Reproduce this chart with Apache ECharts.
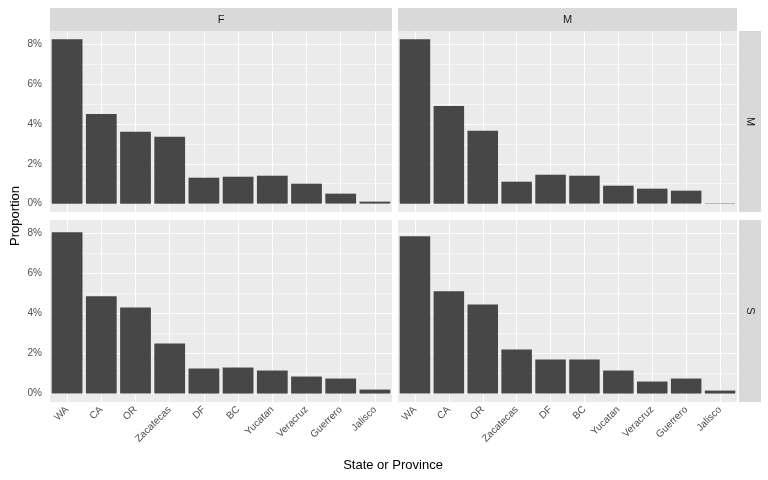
<!DOCTYPE html>
<html><head><meta charset="utf-8">
<script src="https://cdn.jsdelivr.net/npm/echarts@6/dist/echarts.min.js"></script>
<style>body{margin:0;background:#fff}#c{width:768px;height:480px}</style>
</head><body><div id="c"></div>
<script>
const states = ['WA', 'CA', 'OR', 'Zacatecas', 'DF', 'BC', 'Yucatan', 'Veracruz', 'Guerrero', 'Jalisco'];
const colLabels = ['F', 'M'];
const rowLabels = ['M', 'S'];
// proportions in %
const fM = [8.25, 4.5, 3.6, 3.35, 1.3, 1.35, 1.4, 1.0, 0.5, 0.1];
const mM = [8.25, 4.9, 3.65, 1.1, 1.45, 1.4, 0.9, 0.75, 0.65, 0.02];
const fS = [8.05, 4.85, 4.3, 2.5, 1.25, 1.3, 1.15, 0.85, 0.75, 0.2];
const mS = [7.85, 5.1, 4.45, 2.2, 1.7, 1.7, 1.15, 0.6, 0.75, 0.15];
const yTicks = [0, 2, 4, 6, 8];

const panels = [
  { data: fM, left: 50, top: 31, bottom: 212, right: 392, xl: false, yl: true },
  { data: mM, left: 398, top: 31, bottom: 212, right: 737, xl: false, yl: false },
  { data: fS, left: 50, top: 220, bottom: 402, right: 392, xl: true, yl: true },
  { data: mS, left: 398, top: 220, bottom: 402, right: 737, xl: true, yl: false }
];

const grid = [], xAxis = [], yAxis = [], series = [];
panels.forEach((p, i) => {
  grid.push({ left: p.left, top: p.top, width: p.right - p.left, height: p.bottom - p.top,
    show: true, backgroundColor: '#ebebeb', borderWidth: 0 });
  xAxis.push({ type: 'category', gridIndex: i, data: states, boundaryGap: true,
    axisLine: { show: false }, axisTick: { show: p.xl, alignWithLabel: true, length: 3, lineStyle: { color: '#333' } },
    axisLabel: { show: p.xl, rotate: 45, color: '#4d4d4d', fontSize: 10, margin: 6, fontFamily: 'Liberation Sans' },
    splitLine: { show: false } });
  yAxis.push({ type: 'value', gridIndex: i, min: -0.42, max: 8.66,
    axisLine: { show: false }, axisTick: { show: false },
    axisLabel: { show: false }, splitLine: { show: false } });
  // category gridlines
  series.push({ type: 'bar', xAxisIndex: i, yAxisIndex: i, silent: true, barGap: '-100%',
    data: [], markLine: { symbol: 'none', silent: true, label: { show: false },
      lineStyle: { color: '#fff', width: 1.1, type: 'solid' },
      data: states.map(s => ({ xAxis: s })) } });
  // horizontal gridlines with labels
  series.push({ type: 'line', xAxisIndex: i, yAxisIndex: i, silent: true, data: [],
    markLine: { symbol: 'none', silent: true, animation: false,
      data: [1, 3, 5, 7].map(v => ({ yAxis: v, lineStyle: { color: '#fff', width: 0.5, type: 'solid' }, label: { show: false } }))
        .concat(yTicks.map(v => ({ yAxis: v, lineStyle: { color: '#fff', width: 1.1, type: 'solid' },
          label: { show: p.yl, position: 'start', formatter: v + '%', color: '#4d4d4d', fontSize: 10, distance: 8 } }))) } });
  series.push({ type: 'bar', xAxisIndex: i, yAxisIndex: i, data: p.data, barCategoryGap: '10%',
    itemStyle: { color: '#474747' }, z: 5 });
});

const g = [];
[[50, 392], [398, 737]].forEach((c, i) => {
  g.push({ type: 'rect', shape: { x: c[0], y: 8, width: c[1] - c[0], height: 23 }, style: { fill: '#d9d9d9' } });
  g.push({ type: 'text', x: (c[0] + c[1]) / 2, y: 19.5, style: { text: colLabels[i], fill: '#1a1a1a', fontSize: 11, align: 'center', verticalAlign: 'middle' } });
});
[[31, 212], [220, 402]].forEach((r, i) => {
  g.push({ type: 'rect', shape: { x: 739, y: r[0], width: 22, height: r[1] - r[0] }, style: { fill: '#d9d9d9' } });
  g.push({ type: 'text', x: 750, y: (r[0] + r[1]) / 2, rotation: -Math.PI / 2, style: { text: rowLabels[i], fill: '#1a1a1a', fontSize: 11, align: 'center', verticalAlign: 'middle' } });
});
g.push({ type: 'text', x: 393, y: 465, style: { text: 'State or Province', fill: '#000', fontSize: 13, align: 'center', verticalAlign: 'middle' } });
g.push({ type: 'text', x: 15, y: 216, rotation: Math.PI / 2, style: { text: 'Proportion', fill: '#000', fontSize: 13, align: 'center', verticalAlign: 'middle' } });

const chart = echarts.init(document.getElementById('c'));
chart.setOption({ animation: false, textStyle: { fontFamily: 'Liberation Sans' }, grid, xAxis, yAxis, series, graphic: g });
</script></body></html>
